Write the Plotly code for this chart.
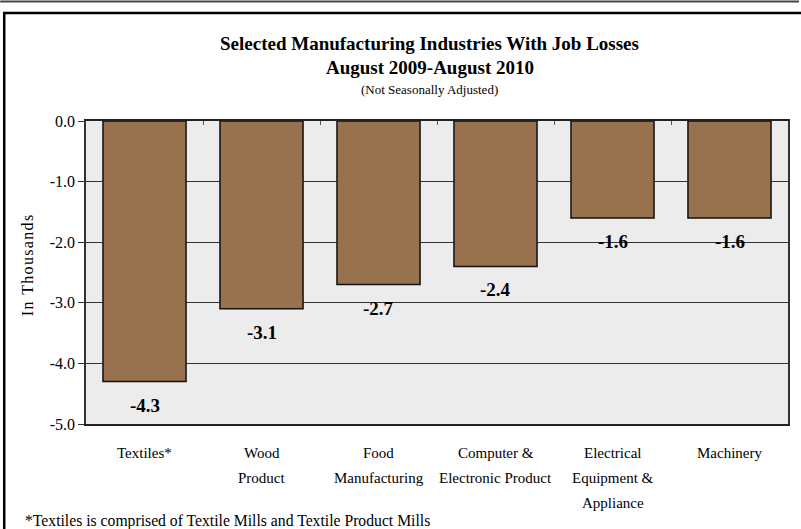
import plotly.graph_objects as go

# ---- data ----
categories = ["Textiles*", "Wood<br>Product", "Food<br>Manufacturing",
              "Computer &<br>Electronic Product",
              "Electrical<br>Equipment &<br>Appliance", "Machinery"]
values = [-4.3, -3.1, -2.7, -2.4, -1.6, -1.6]
value_labels = ["-4.3", "-3.1", "-2.7", "-2.4", "-1.6", "-1.6"]
y_ticks = [0.0, -1.0, -2.0, -3.0, -4.0, -5.0]
y_tick_labels = ["0.0", "-1.0", "-2.0", "-3.0", "-4.0", "-5.0"]
title_lines = ["Selected Manufacturing Industries With Job Losses",
               "August 2009-August 2010"]
subtitle = "(Not Seasonally Adjusted)"
y_title = "In Thousands"
footnote = "*Textiles is comprised of Textile Mills and Textile Product Mills"

# ---- layout geometry ----
W, H = 801, 529
ML, MR, MT, MB = 86, 11, 121, 105
PW, PH = W - ML - MR, H - MT - MB


def px_x(px):
    return (px - ML) / PW


def px_y(py):
    return (H - MB - py) / PH


SERIF = "Liberation Serif, Times New Roman, serif"
BROWN = "#98714e"

fig = go.Figure()
fig.add_trace(go.Bar(
    x=categories, y=values,
    marker=dict(color=BROWN, line=dict(color="#111111", width=1.5)),
    hoverinfo="skip",
))

annotations = []
# value labels below each bar end
for c, v, t in zip(categories, values, value_labels):
    annotations.append(dict(
        x=c, y=v, xref="x", yref="y", text=t, showarrow=False,
        yanchor="top", yshift=-11,
        font=dict(family=SERIF, size=19, color="#000000", weight="bold"),
    ))
# category labels, line by line
for c in categories:
    for i, line in enumerate(c.split("<br>")):
        annotations.append(dict(
            x=c, y=0, xref="x", yref="paper", text=line, showarrow=False,
            yanchor="middle", yshift=-29 - 25 * i,
            font=dict(family=SERIF, size=15, color="#000000"),
        ))
# titles
for line, py in zip(title_lines, [43, 67]):
    annotations.append(dict(
        x=0.49, y=px_y(py), xref="paper", yref="paper", text=line,
        showarrow=False, yanchor="middle",
        font=dict(family=SERIF, size=19, color="#000000", weight="bold"),
    ))
annotations.append(dict(
    x=0.49, y=px_y(89), xref="paper", yref="paper", text=subtitle,
    showarrow=False, yanchor="middle",
    font=dict(family=SERIF, size=13, color="#000000"),
))
# y axis title (letter-spaced)
annotations.append(dict(
    x=px_x(27), y=px_y(266), xref="paper", yref="paper",
    text="\u200a".join(list(y_title)), showarrow=False, textangle=-90,
    xanchor="center", yanchor="middle",
    font=dict(family=SERIF, size=16, color="#000000"),
))
# footnote
annotations.append(dict(
    x=px_x(23), y=px_y(521), xref="paper", yref="paper", text=footnote,
    showarrow=False, xanchor="left", yanchor="middle",
    font=dict(family=SERIF, size=15.7, color="#000000"),
))

shapes = [
    # thin rule at very top
    dict(type="line", xref="paper", yref="paper",
         x0=px_x(0), x1=px_x(W), y0=px_y(1.5), y1=px_y(1.5),
         line=dict(color="#444444", width=2)),
    # outer frame
    dict(type="rect", xref="paper", yref="paper",
         x0=px_x(4), x1=px_x(W + 20), y0=px_y(H + 20), y1=px_y(13),
         line=dict(color="#000000", width=2.5)),
]

fig.update_layout(
    width=W, height=H,
    margin=dict(l=ML, r=MR, t=MT, b=MB),
    paper_bgcolor="#ffffff",
    plot_bgcolor="#ececec",
    bargap=0.29,
    showlegend=False,
    annotations=annotations,
    shapes=shapes,
    xaxis=dict(side="top", showticklabels=False, ticks="inside", ticklen=4,
               tickson="boundaries", tickcolor="#555555", tickwidth=1,
               showgrid=False,
               showline=True, linecolor="#222222", linewidth=1.5,
               mirror=True, zeroline=False),
    yaxis=dict(range=[-5, 0], tickvals=y_ticks, ticktext=y_tick_labels,
               ticks="outside", ticklen=6, tickcolor="#333333",
               showgrid=True, gridcolor="#333333", gridwidth=1,
               showline=True, linecolor="#333333", linewidth=1.5,
               mirror=True, zeroline=False,
               tickfont=dict(family=SERIF, size=16, color="#000000")),
)

fig.write_html(
    "out.html",
    config={"displayModeBar": False},
    post_script="document.body.style.margin='0';document.body.style.overflow='hidden';",
)
